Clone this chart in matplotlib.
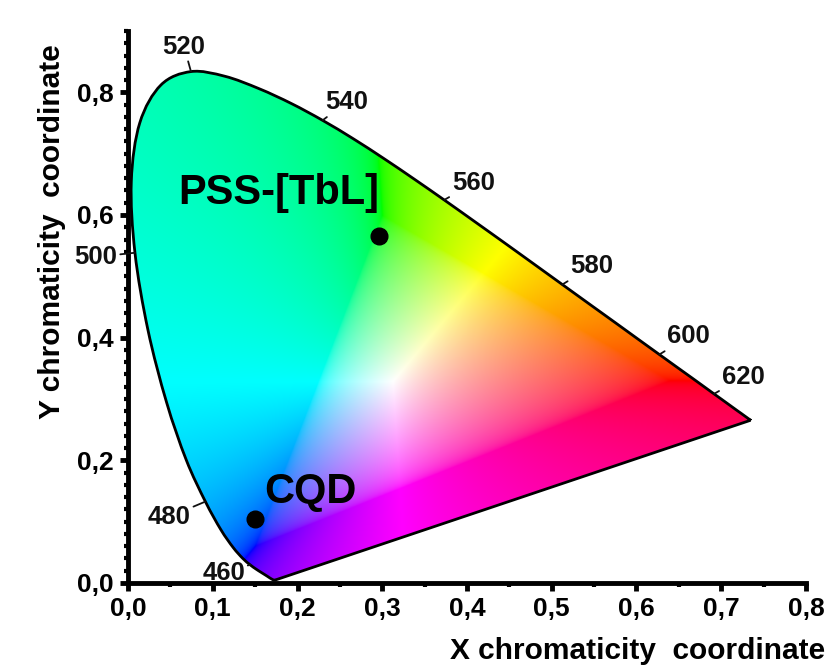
import numpy as np
import matplotlib
matplotlib.use("Agg")
import matplotlib.pyplot as plt
from matplotlib.patches import PathPatch
from matplotlib.path import Path
from matplotlib.ticker import MultipleLocator, FuncFormatter

# CIE 1931 spectral locus (wavelength nm, x, y)
wavelengths = [380, 385, 390, 395, 400, 405, 410, 415, 420, 425, 430, 435, 440, 445,
               450, 455, 460, 465, 470, 475, 480, 485, 490, 495, 500, 505, 510, 515,
               520, 525, 530, 535, 540, 545, 550, 555, 560, 565, 570, 575, 580, 585,
               590, 595, 600, 605, 610, 615, 620, 625, 630, 635, 640, 645, 650, 660,
               680, 700]
locus_x = [0.1741, 0.1740, 0.1738, 0.1736, 0.1733, 0.1730, 0.1726, 0.1721, 0.1714, 0.1703,
           0.1689, 0.1669, 0.1644, 0.1611, 0.1566, 0.1510, 0.1440, 0.1355, 0.1241, 0.1096,
           0.0913, 0.0687, 0.0454, 0.0235, 0.0082, 0.0039, 0.0139, 0.0389, 0.0743, 0.1142,
           0.1547, 0.1929, 0.2296, 0.2658, 0.3016, 0.3373, 0.3731, 0.4087, 0.4441, 0.4788,
           0.5125, 0.5448, 0.5752, 0.6029, 0.6270, 0.6482, 0.6658, 0.6801, 0.6915, 0.7006,
           0.7079, 0.7140, 0.7190, 0.7230, 0.7260, 0.7300, 0.7347, 0.7347]
locus_y = [0.0050, 0.0050, 0.0049, 0.0049, 0.0048, 0.0048, 0.0048, 0.0048, 0.0051, 0.0058,
           0.0069, 0.0086, 0.0109, 0.0138, 0.0177, 0.0227, 0.0297, 0.0399, 0.0578, 0.0868,
           0.1327, 0.2007, 0.2950, 0.4127, 0.5384, 0.6548, 0.7502, 0.8120, 0.8338, 0.8262,
           0.8059, 0.7816, 0.7543, 0.7243, 0.6923, 0.6589, 0.6245, 0.5896, 0.5547, 0.5202,
           0.4866, 0.4544, 0.4242, 0.3965, 0.3725, 0.3514, 0.3340, 0.3197, 0.3083, 0.2993,
           0.2920, 0.2859, 0.2809, 0.2770, 0.2740, 0.2700, 0.2653, 0.2653]

# wavelength labels and label offsets (points)
label_wl = [460, 480, 500, 520, 540, 560, 580, 600, 620]
label_dx = [-19, -26, -28, -5, 17, 21, 21, 21, 21]
label_dy = [-6, -11, -3, 18, 13, 12, 13, 13, 12]

# samples
sample_names = ["PSS-[TbL]", "CQD"]
sample_x = [0.296, 0.150]
sample_y = [0.565, 0.1045]
sample_dx = [-72, 40]
sample_dy = [31, 19]

x_ticks = [0.0, 0.1, 0.2, 0.3, 0.4, 0.5, 0.6, 0.7, 0.8]
y_ticks = [0.0, 0.2, 0.4, 0.6, 0.8]

plt.rcParams['font.family'] = ['Liberation Sans', 'DejaVu Sans']
plt.rcParams['font.weight'] = 'bold'

fig = plt.figure(figsize=(8.28, 6.69), dpi=100)
ax = fig.add_axes([0.1546, 0.1286, 0.8188, 0.8251])
ax.set_xlim(0, 0.8)
ax.set_ylim(0, 0.9)

# smooth outline through the locus points (Catmull-Rom as cubic Bezier), closed by the purple line
P = np.column_stack([locus_x, locus_y])
n = len(P)
verts = [P[0]]
codes = [Path.MOVETO]
for i in range(n - 1):
    p0 = P[max(i - 1, 0)]
    p1 = P[i]
    p2 = P[i + 1]
    p3 = P[min(i + 2, n - 1)]
    c1 = p1 + (p2 - p0) / 6.0
    c2 = p2 - (p3 - p1) / 6.0
    verts += [c1, c2, p2]
    codes += [Path.CURVE4] * 3
verts += [P[0], P[0]]
codes += [Path.LINETO, Path.CLOSEPOLY]
locus_path = Path(verts, codes)

# colour fill of the chromaticity diagram
gx = np.linspace(0, 0.8, 800)
gy = np.linspace(0.0005, 0.9, 900)
X, Y = np.meshgrid(gx, gy)
Z = 1 - X - Y
M = np.array([[3.2406, -1.5372, -0.4986],
              [-0.9689, 1.8758, 0.0415],
              [0.0557, -0.2040, 1.0570]])
xyz = np.stack([X, Y, Z], axis=-1)
rgb = xyz @ M.T
mn = np.minimum(rgb.min(axis=-1, keepdims=True), 0)
rgb = rgb - mn
rgb = rgb / np.maximum(rgb.max(axis=-1, keepdims=True), 1e-9)
rgb = np.clip(rgb, 0, 1)
rgb = np.where(rgb <= 0.0031308, 12.92 * rgb, 1.055 * rgb ** (1 / 2.4) - 0.055)
rgb = np.clip(rgb, 0, 1)

clip_patch = PathPatch(locus_path, transform=ax.transData, facecolor='none', edgecolor='none')
ax.add_patch(clip_patch)
im = ax.imshow(rgb, extent=[0, 0.8, 0.0005, 0.9], origin='lower',
               aspect='auto', interpolation='bilinear', zorder=1)
im.set_clip_path(clip_patch)

outline = PathPatch(locus_path, transform=ax.transData, facecolor='none',
                    edgecolor='black', lw=2, zorder=3)
ax.add_patch(outline)

for wl, dx, dy in zip(label_wl, label_dx, label_dy):
    i = wavelengths.index(wl)
    ax.annotate(str(wl), xy=(locus_x[i], locus_y[i]), xytext=(dx, dy),
                textcoords='offset points', ha='center', va='center',
                fontsize=18.5, fontweight='bold', color='#111111',
                arrowprops=dict(arrowstyle='-', color='#111111', lw=1.3,
                                shrinkA=0, shrinkB=0),
                zorder=4, annotation_clip=False)

ax.plot(sample_x, sample_y, 'o', color='black', markersize=12, zorder=5)
for name, sx, sy, dx, dy in zip(sample_names, sample_x, sample_y, sample_dx, sample_dy):
    ax.annotate(name, xy=(sx, sy), xytext=(dx, dy), textcoords='offset points',
                ha='center', va='center', fontsize=30, fontweight='bold',
                color='black', zorder=6)

for s in ['top', 'right']:
    ax.spines[s].set_visible(False)
for s in ['left', 'bottom']:
    ax.spines[s].set_linewidth(3.5)

ax.set_xticks(x_ticks)
ax.set_yticks(y_ticks)
ax.xaxis.set_minor_locator(MultipleLocator(0.05))
ax.yaxis.set_minor_locator(MultipleLocator(0.02))
fmt = FuncFormatter(lambda v, p: ("%.1f" % v).replace('.', ','))
ax.xaxis.set_major_formatter(fmt)
ax.yaxis.set_major_formatter(fmt)
ax.tick_params(which='major', direction='out', length=6, width=3.5, labelsize=19, pad=4)
ax.tick_params(which='minor', direction='out', length=3, width=3)
for lab in ax.get_xticklabels() + ax.get_yticklabels():
    lab.set_fontweight('bold')

ax.set_xlabel("X chromaticity  coordinate", fontsize=21.5, fontweight='bold')
ax.set_ylabel("Y chromaticity  coordinate", fontsize=21.5, fontweight='bold')
ax.xaxis.set_label_coords(0.751, -0.098)
ax.yaxis.set_label_coords(-0.092, 0.636)

fig.savefig("out.png", dpi=100)
